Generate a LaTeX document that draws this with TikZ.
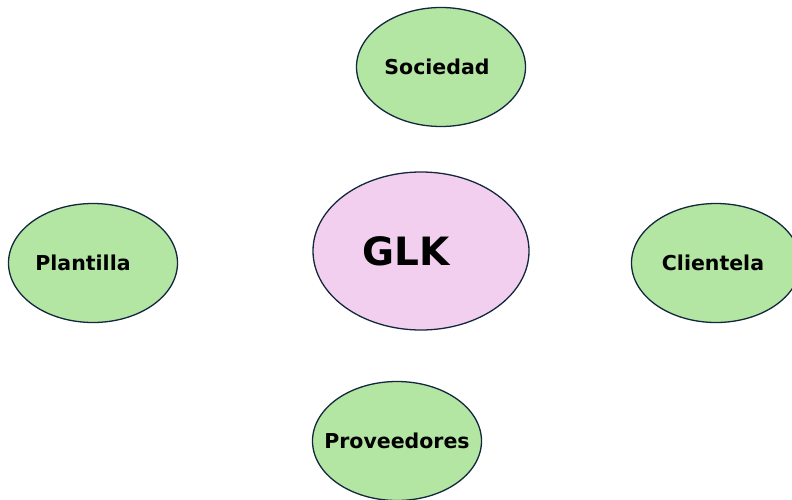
\documentclass[tikz,border=0pt]{standalone}
\usepackage{fontspec}
\setmainfont{DejaVu Sans}
\usetikzlibrary{shapes.geometric}
\definecolor{grupo}{HTML}{B3E5A3}
\definecolor{centro}{HTML}{F2CFEE}
\definecolor{borde}{HTML}{14283D}
\tikzset{
  grupo/.style={ellipse,draw=borde,fill=grupo,line width=1.3pt,inner ysep=0pt,inner xsep=-30pt,
    minimum width=169pt,minimum height=119pt,font=\fontsize{20.5}{22}\selectfont\bfseries},
  centro/.style={ellipse,draw=borde,fill=centro,line width=1.3pt,inner sep=0pt,
    minimum width=216pt,minimum height=158pt,font=\fontsize{39}{42}\selectfont\bfseries}
}
\begin{document}
\begin{tikzpicture}[x=1pt,y=-1pt]
            \clip (0,0) rectangle (792,500);
            \fill[white] (0,0) rectangle (792,500);
            % centro
            \node[centro] (glk) at (421,251) {GLK\hspace*{30pt}};
            % grupos de interes
            \node[grupo] (sociedad) at (441,67) {Sociedad\hspace*{8pt}};
            \node[grupo] (plantilla) at (93,263) {Plantilla\hspace*{20pt}};
            \node[grupo] (clientela) at (716,263) {Clientela\hspace*{6pt}};
            \node[grupo] (proveedores) at (397,441) {Proveedores};
        \end{tikzpicture}
\end{document}
